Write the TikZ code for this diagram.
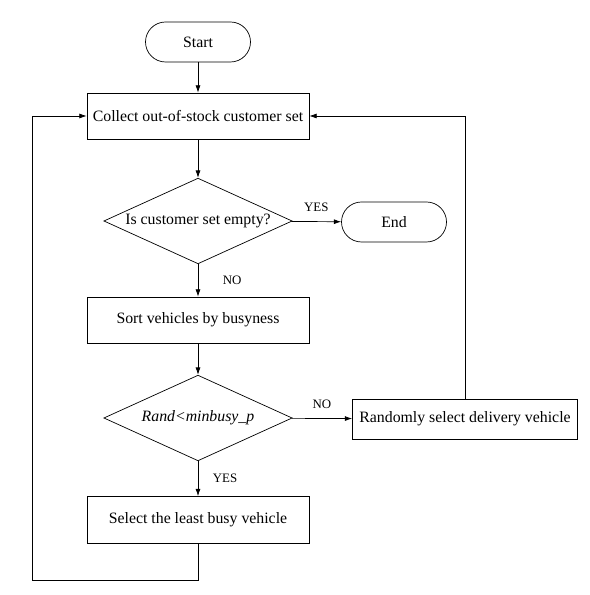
\documentclass[tikz,border=0pt]{standalone}
\usepackage{fontspec}
\setmainfont{Liberation Serif}
\usetikzlibrary{arrows.meta,positioning,shapes.geometric}

\begin{document}
\begin{tikzpicture}[every node/.style={font=\fontsize{13.5}{16}\selectfont},
    procbox/.style={draw, rectangle, line width=0.6pt, minimum width=6.66cm, minimum height=1.38cm},
    termbox/.style={draw, rectangle, rounded corners=0.6cm, line width=0.6pt, minimum width=3.15cm, minimum height=1.2cm},
    decbox/.style={draw, diamond, aspect=2.2, inner sep=0pt, line width=0.6pt, minimum width=5.65cm, minimum height=2.57cm},
    flowline/.style={-{Latex[length=2.2mm,width=1.5mm]}, line width=0.6pt},
    lbl/.style={font=\fontsize{11}{13}\selectfont}]
      \useasboundingbox (0,0) rectangle (17.67,17.85);
      \node[termbox] (start) at (5.94, 16.59) {Start};
      \node[procbox] (collect) at (5.94, 14.37) {Collect out-of-stock customer set};
      \node[decbox] (empty) at (5.94, 11.22) {Is customer set empty?};
      \node[termbox] (end) at (11.82, 11.19) {End};
      \node[procbox] (sort) at (5.94, 8.25) {Sort vehicles by busyness};
      \node[decbox] (rand) at (5.94, 5.31) {\textit{Rand<minbusy\_p}};
      \node[procbox, minimum width=6.75cm, minimum height=1.2cm] (random) at (13.95, 5.28) {Randomly select delivery vehicle};
      \node[procbox, minimum height=1.41cm] (select) at (5.94, 2.25) {Select the least busy vehicle};
      \coordinate (loopL) at (0.96, 0.45);
      \draw[flowline] (start) -- (collect);
      \draw[flowline] (collect) -- (empty);
      \draw[flowline] (empty) -- node[lbl, above=5pt]{YES} (end);
      \draw[flowline] (empty) -- node[lbl, right=0.62cm]{NO} (sort);
      \draw[flowline] (sort) -- (rand);
      \draw[flowline] (rand) -- node[lbl, above=5pt]{NO} (random);
      \draw[flowline] (rand) -- node[lbl, right=0.32cm]{YES} (select);
      \draw[flowline] (select.south) |- (loopL) |- (collect.west);
      \draw[flowline] (random.north) |- (collect.east);
    \end{tikzpicture}
\end{document}
